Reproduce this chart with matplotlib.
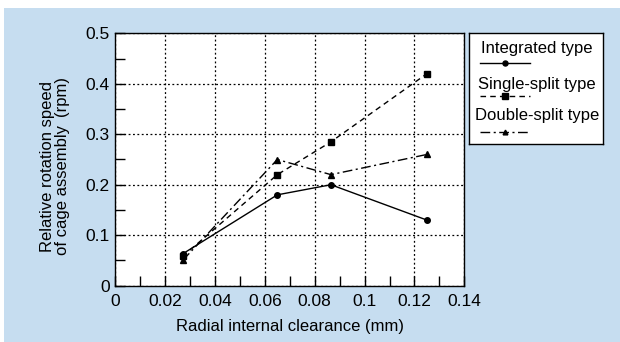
import matplotlib
matplotlib.use("Agg")
import matplotlib.pyplot as plt
from matplotlib.patches import Rectangle
from matplotlib.ticker import MultipleLocator, FuncFormatter

plt.rcParams['font.family'] = ['Liberation Sans', 'DejaVu Sans']

clearance = [0.027, 0.065, 0.0865, 0.125]
integrated = [0.063, 0.18, 0.20, 0.13]
single_split = [0.058, 0.22, 0.285, 0.42]
double_split = [0.050, 0.25, 0.22, 0.26]
labels = ["Integrated type", "Single-split type", "Double-split type"]

W, H = 620, 342
fig = plt.figure(figsize=(W / 100, H / 100), dpi=100)
fig.patch.set_facecolor('white')
fig.patches.append(Rectangle((4 / W, 0), 1 - 4 / W, 1 - 8 / H, transform=fig.transFigure,
                             facecolor='#C6DDF0', edgecolor='none', zorder=-10))

ax = fig.add_axes([115.3 / W, (H - 285.7) / H, 349 / W, 252.4 / H])
ax.set_facecolor('white')
styles = [dict(ls='-', marker='o', ms=4.0),
          dict(ls=(0, (4, 3)), marker='s', ms=5.0),
          dict(ls=(0, (7, 2.5, 1.5, 2.5)), marker='^', ms=3.8)]
for ys, st in zip([integrated, single_split, double_split], styles):
    ax.plot(clearance, ys, color='black', lw=1.0, mfc='black', mec='black', **st)

ax.set_xlim(0, 0.14)
ax.set_ylim(0, 0.5)
ax.xaxis.set_major_locator(MultipleLocator(0.02))
ax.xaxis.set_minor_locator(MultipleLocator(0.01))
ax.yaxis.set_major_locator(MultipleLocator(0.1))
ax.yaxis.set_minor_locator(MultipleLocator(0.05))
fmt = FuncFormatter(lambda v, p: "0" if abs(v) < 1e-9 else f"{v:.2f}".rstrip('0'))
ax.xaxis.set_major_formatter(fmt)
ax.yaxis.set_major_formatter(FuncFormatter(lambda v, p: "0" if abs(v) < 1e-9 else f"{v:.1f}"))
ax.tick_params(which='both', direction='in', length=7, width=1, labelsize=12.5)
ax.tick_params(axis='x', pad=6)
ax.tick_params(axis='y', pad=4)
ax.grid(True, which='major', color='black', ls=(0, (1.5, 2)), lw=0.9)
for s in ax.spines.values():
    s.set_linewidth(1.0)

fig.text(290 / W, 1 - 326 / H, "Radial internal clearance (mm)", ha='center', va='center', fontsize=12)
fig.text(55 / W, 1 - 166 / H, "Relative rotation speed\nof cage assembly\u2009 (rpm)", ha='center', va='center',
         rotation=90, fontsize=12, linespacing=1.0)

# legend box
lx0, lx1, ly0, ly1 = 469, 603.3, 33.3, 144
lax = fig.add_axes([lx0 / W, (H - ly1) / H, (lx1 - lx0) / W, (ly1 - ly0) / H])
lax.set_xlim(lx0, lx1)
lax.set_ylim(ly1, ly0)
lax.set_xticks([])
lax.set_yticks([])
lax.set_facecolor('white')
for s in lax.spines.values():
    s.set_linewidth(1.0)
text_y = [48.5, 84.5, 115.5]
line_y = [62.7, 95.7, 132.3]
for lab, st, ty, ly in zip(labels, styles, text_y, line_y):
    lax.text(537, ty, lab, ha='center', va='center', fontsize=12)
    lax.plot([480, 530], [ly, ly], color='black', lw=1.0, ls=st['ls'])
    lax.plot([505], [ly], color='black', marker=st['marker'], ms=st['ms'] * 0.9, ls='none')

fig.savefig("out.png", dpi=100)
